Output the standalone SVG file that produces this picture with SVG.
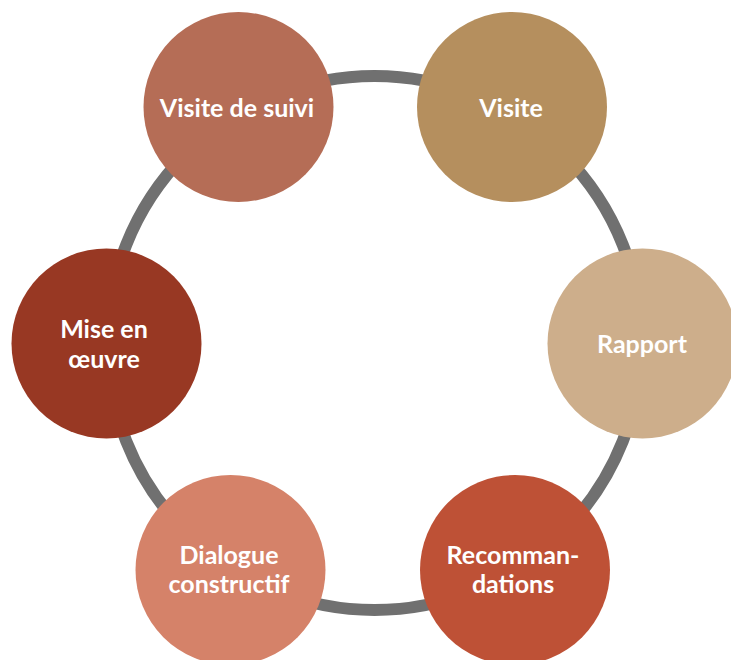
<svg xmlns="http://www.w3.org/2000/svg" width="731" height="660" viewBox="0 0 731 660">
<style>
.lbl{font-family:Lato,"Liberation Sans",sans-serif;font-weight:bold;font-size:25px;fill:#ffffff;text-anchor:middle}
</style>
<rect width="731" height="660" fill="#ffffff"/>
<g id="connectors">
<circle cx="374.5" cy="343" r="267" fill="none" stroke="#707070" stroke-width="12"/>
</g>
<g id="visite-de-suivi">
<circle cx="238.5" cy="107" r="95" fill="#b56d56"/>
<text class="lbl" x="237" y="117">Visite de suivi</text>
</g>
<g id="visite">
<circle cx="512" cy="107" r="95" fill="#b58f5e"/>
<text class="lbl" x="511" y="117">Visite</text>
</g>
<g id="rapport">
<circle cx="642.5" cy="343.5" r="95" fill="#cdae8b"/>
<text class="lbl" x="642" y="353">Rapport</text>
</g>
<g id="recommandations">
<circle cx="515" cy="570" r="95" fill="#be5136"/>
<text class="lbl" x="513" y="564">Recomman-</text>
<text class="lbl" x="513" y="593">dations</text>
</g>
<g id="dialogue-constructif">
<circle cx="230.5" cy="570" r="95" fill="#d58269"/>
<text class="lbl" x="229" y="564">Dialogue</text>
<text class="lbl" x="229" y="593">constructif</text>
</g>
<g id="mise-en-oeuvre">
<circle cx="106.5" cy="343.5" r="95" fill="#983823"/>
<text class="lbl" x="104" y="338">Mise en</text>
<text class="lbl" x="104" y="368">œuvre</text>
</g>
</svg>
